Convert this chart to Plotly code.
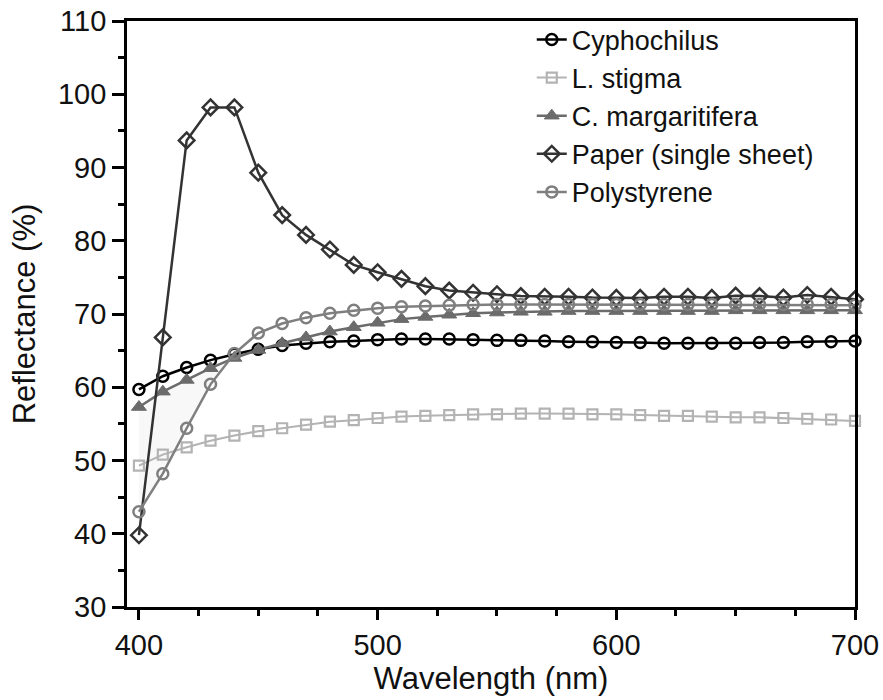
import plotly.graph_objects as go

wavelength = list(range(400, 701, 10))

cyphochilus = [59.7, 61.5, 62.7, 63.7, 64.5, 65.2, 65.7, 66.0, 66.2, 66.3, 66.5,
               66.6, 66.6, 66.6, 66.5, 66.4, 66.4, 66.3, 66.2, 66.2, 66.1, 66.1,
               66.0, 66.0, 66.0, 66.0, 66.1, 66.1, 66.2, 66.2, 66.3]
l_stigma = [49.3, 50.8, 51.8, 52.7, 53.4, 54.0, 54.4, 54.9, 55.3, 55.5, 55.8,
            56.0, 56.1, 56.2, 56.3, 56.3, 56.4, 56.4, 56.4, 56.3, 56.3, 56.2,
            56.1, 56.1, 56.0, 55.9, 55.9, 55.8, 55.7, 55.6, 55.4]
c_margaritifera = [57.3, 59.4, 61.0, 62.6, 64.0, 65.1, 66.0, 66.8, 67.6, 68.2, 68.8,
                   69.3, 69.6, 69.9, 70.1, 70.2, 70.3, 70.3, 70.4, 70.4, 70.4, 70.4,
                   70.4, 70.4, 70.4, 70.5, 70.5, 70.5, 70.5, 70.5, 70.5]
paper = [39.8, 66.8, 93.7, 98.2, 98.2, 89.3, 83.5, 80.8, 78.8, 76.7, 75.7,
         74.8, 73.8, 73.2, 72.9, 72.7, 72.45, 72.35, 72.35, 72.25, 72.2, 72.2,
         72.35, 72.35, 72.2, 72.5, 72.45, 72.25, 72.6, 72.35, 72.0]
polystyrene = [43.0, 48.2, 54.4, 60.4, 64.6, 67.4, 68.7, 69.5, 70.1, 70.5, 70.8,
               71.0, 71.1, 71.2, 71.3, 71.3, 71.3, 71.3, 71.3, 71.3, 71.3, 71.3,
               71.3, 71.3, 71.3, 71.3, 71.3, 71.3, 71.3, 71.3, 71.2]

series_names = ["Cyphochilus", "L. stigma", "C. margaritifera",
                "Paper (single sheet)", "Polystyrene"]
x_tickvals = [400, 500, 600, 700]
y_tickvals = [30, 40, 50, 60, 70, 80, 90, 100, 110]

FONT = "Liberation Sans, Arial, sans-serif"

fig = go.Figure()

# faint shaded region between C. margaritifera and Polystyrene (400-440 nm)
n_shade = 5
fig.add_trace(go.Scatter(
    x=wavelength[:n_shade] + wavelength[:n_shade][::-1],
    y=c_margaritifera[:n_shade] + polystyrene[:n_shade][::-1],
    fill="toself", fillcolor="rgba(200,200,200,0.12)",
    line=dict(width=0), mode="lines", showlegend=False, hoverinfo="skip"))

styles = [
    dict(data=cyphochilus, color="#000000", lw=2.5, symbol="circle-open", size=11, mlw=2.5),
    dict(data=l_stigma, color="#b3b3b3", lw=2, symbol="square-open", size=10, mlw=2.2),
    dict(data=c_margaritifera, color="#6b6b6b", lw=2.5, symbol="triangle-up", size=13, mlw=1),
    dict(data=paper, color="#333333", lw=2.5, symbol="diamond-open", size=12, mlw=2.5),
    dict(data=polystyrene, color="#7f7f7f", lw=2.5, symbol="circle-open", size=11, mlw=2.5),
]

for name, s in zip(series_names, styles):
    fig.add_trace(go.Scatter(
        x=wavelength, y=s["data"], name=name, mode="lines+markers",
        line=dict(color=s["color"], width=s["lw"]),
        marker=dict(symbol=s["symbol"], size=s["size"], color=s["color"],
                    line=dict(color=s["color"], width=s["mlw"])),
        cliponaxis=False))

axis_common = dict(
    showline=True, linecolor="#000000", linewidth=2.8, mirror=True,
    showgrid=False, zeroline=False, ticks="outside", tickcolor="#000000",
    tickwidth=2.5, tickfont=dict(family=FONT, size=29, color="#111111"),
    automargin=False,
)

fig.update_xaxes(
    range=[395, 700], tickvals=x_tickvals, ticklen=10,
    minor=dict(ticks="outside", ticklen=6, tickwidth=2.5, tickcolor="#000000",
               dtick=25, tick0=400, showgrid=False),
    title=dict(text="Wavelength (nm)", font=dict(family=FONT, size=31, color="#111111"),
               standoff=8),
    **axis_common)
fig.update_yaxes(
    range=[30, 110], tickvals=y_tickvals, ticklen=12,
    minor=dict(ticks="outside", ticklen=6, tickwidth=2.5, tickcolor="#000000",
               dtick=5, tick0=30, showgrid=False),
    title=dict(text="Reflectance (%)", font=dict(family=FONT, size=31, color="#111111"),
               standoff=14),
    **axis_common)

fig.update_layout(
    width=883, height=700,
    margin=dict(l=127, r=28, t=21, b=93),
    paper_bgcolor="white", plot_bgcolor="white",
    font=dict(family=FONT, color="#111111"),
    legend=dict(x=0.556, y=1.0095, xanchor="left", yanchor="top",
                font=dict(family=FONT, size=27, color="#111111"),
                bgcolor="rgba(0,0,0,0)", tracegroupgap=0),
)

fig.write_html("out.html")
